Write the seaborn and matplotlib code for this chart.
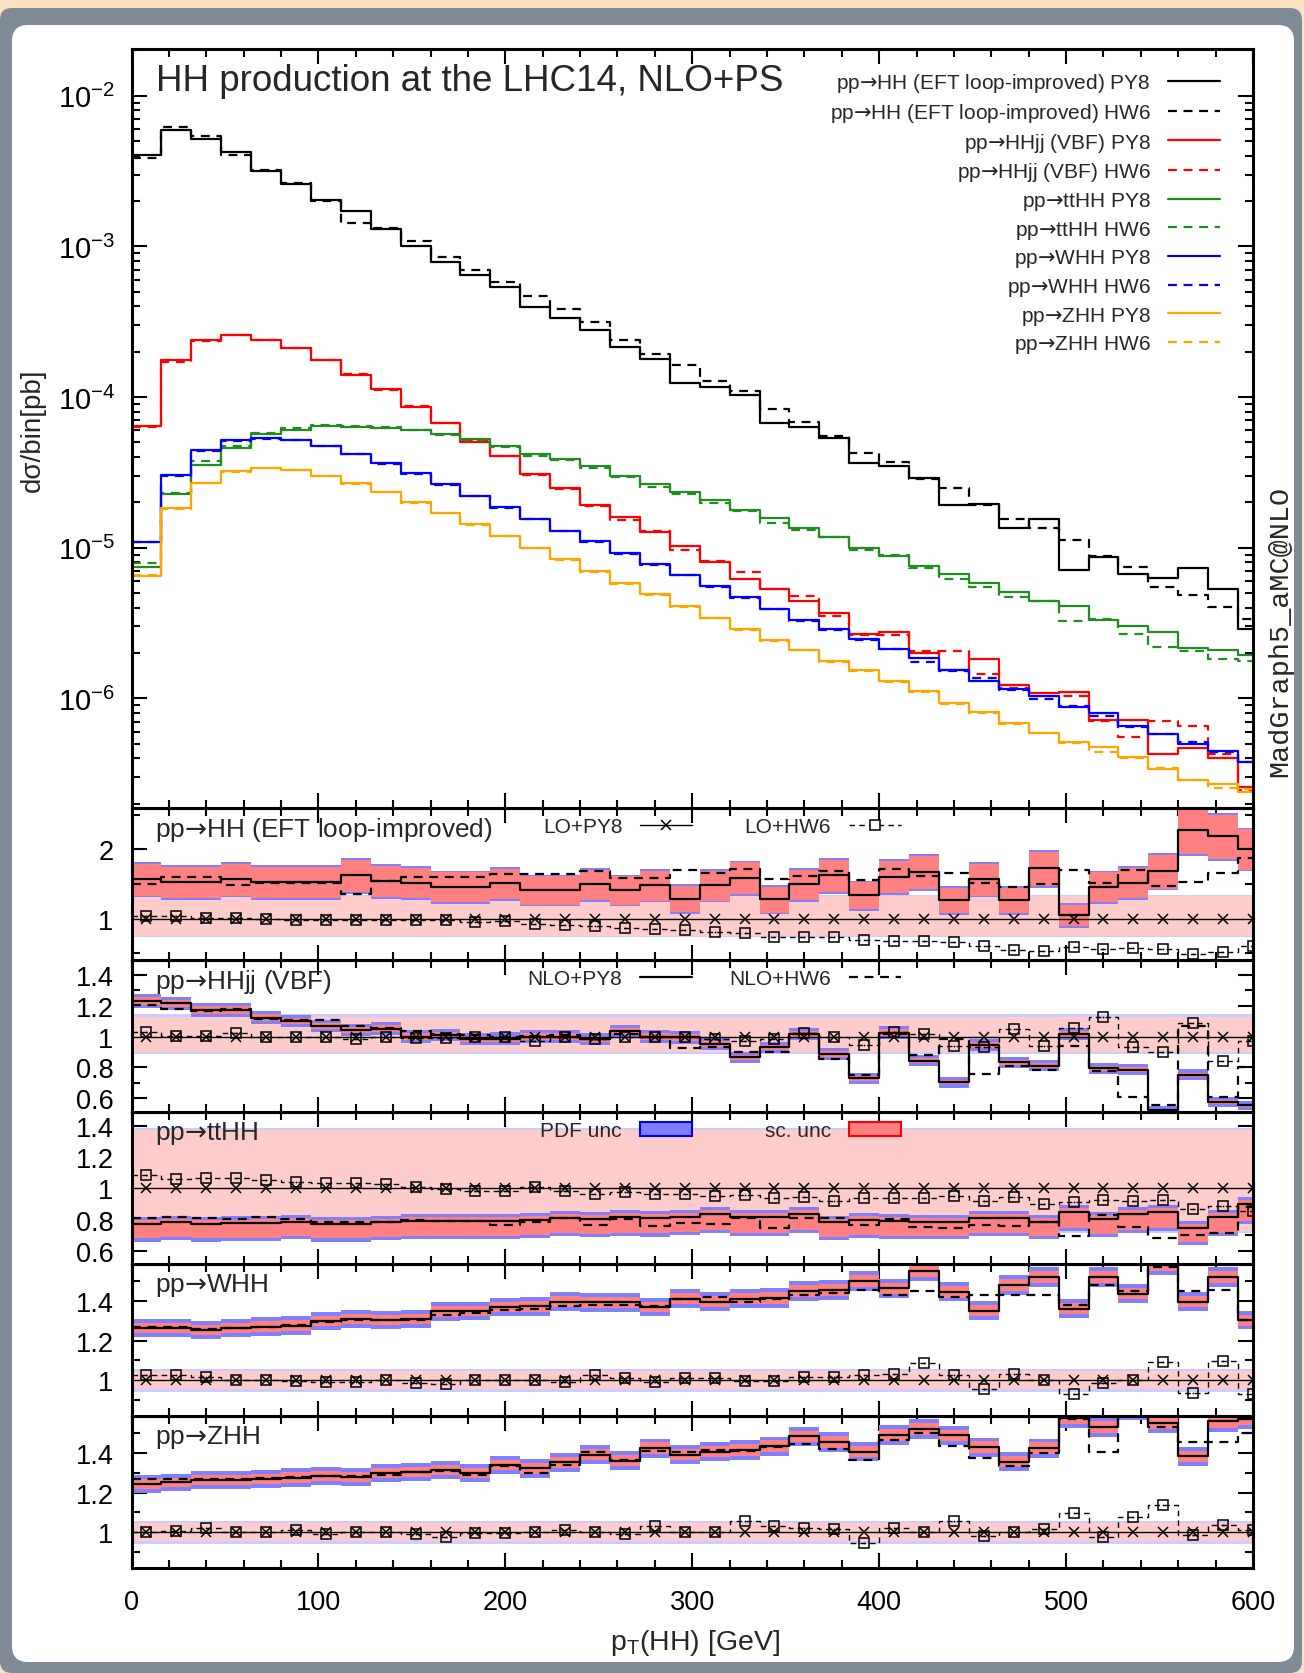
import numpy as np
import pandas as pd
import matplotlib
matplotlib.use("Agg")
import matplotlib.pyplot as plt
import seaborn as sns
from matplotlib.patches import FancyBboxPatch, Patch
from matplotlib.lines import Line2D
from matplotlib.ticker import MultipleLocator, FixedLocator, FormatStrFormatter, LogLocator

# ---------------- data ----------------
bin_width = 16
edges = np.arange(0, 609, bin_width)          # 38 bins, last one runs past 600
centers = edges[:-1] + bin_width / 2

# d sigma / bin [pb]
hh_py8 = [4.04e-3, 5.94e-3, 5.15e-3, 4.25e-3, 3.18e-3, 2.59e-3, 2.02e-3, 1.73e-3, 1.30e-3, 1.01e-3,
          7.93e-4, 6.46e-4, 5.35e-4, 3.99e-4, 3.33e-4, 2.78e-4, 2.14e-4, 1.79e-4, 1.24e-4, 1.16e-4,
          1.03e-4, 6.70e-5, 6.35e-5, 5.31e-5, 3.66e-5, 3.51e-5, 2.88e-5, 1.93e-5, 1.95e-5, 1.35e-5,
          1.54e-5, 7.08e-6, 8.69e-6, 6.64e-6, 6.28e-6, 7.31e-6, 5.28e-6, 2.87e-6]
hh_hw6 = [3.84e-3, 6.22e-3, 5.43e-3, 4.04e-3, 3.21e-3, 2.62e-3, 2.00e-3, 1.43e-3, 1.32e-3, 1.08e-3,
          8.49e-4, 7.00e-4, 5.79e-4, 4.67e-4, 3.82e-4, 3.13e-4, 2.39e-4, 1.93e-4, 1.64e-4, 1.28e-4,
          1.10e-4, 8.28e-5, 6.85e-5, 5.52e-5, 4.26e-5, 3.70e-5, 2.85e-5, 2.49e-5, 1.93e-5, 1.56e-5,
          1.35e-5, 1.13e-5, 8.87e-6, 7.40e-6, 5.48e-6, 4.84e-6, 4.01e-6, 3.37e-6]
hhjj_py8 = [6.43e-5, 1.76e-4, 2.38e-4, 2.59e-4, 2.40e-4, 2.13e-4, 1.75e-4, 1.41e-4, 1.13e-4, 8.55e-5,
            6.70e-5, 5.04e-5, 4.06e-5, 3.10e-5, 2.49e-5, 1.93e-5, 1.61e-5, 1.28e-5, 1.02e-5, 8.02e-6,
            6.21e-6, 5.35e-6, 4.43e-6, 3.66e-6, 2.69e-6, 2.75e-6, 1.99e-6, 1.54e-6, 1.83e-6, 1.23e-6,
            1.08e-6, 1.10e-6, 7.23e-7, 7.23e-7, 4.26e-7, 4.65e-7, 4.04e-7, 2.59e-7]
hhjj_hw6 = [6.31e-5, 1.72e-4, 2.35e-4, 2.58e-4, 2.39e-4, 2.13e-4, 1.77e-4, 1.43e-4, 1.11e-4, 8.73e-5,
            6.70e-5, 5.18e-5, 4.06e-5, 3.06e-5, 2.47e-5, 1.90e-5, 1.53e-5, 1.30e-5, 9.68e-6, 8.22e-6,
            6.92e-6, 5.28e-6, 4.80e-6, 3.51e-6, 2.62e-6, 2.62e-6, 2.05e-6, 2.05e-6, 1.46e-6, 1.17e-6,
            1.03e-6, 1.03e-6, 7.03e-7, 5.52e-7, 7.03e-7, 6.59e-7, 4.26e-7, 2.45e-7]
tthh_py8 = [7.40e-6, 2.26e-5, 3.54e-5, 4.57e-5, 5.70e-5, 6.08e-5, 6.43e-5, 6.35e-5, 6.25e-5, 6.08e-5,
            5.70e-5, 5.26e-5, 4.76e-5, 4.21e-5, 3.86e-5, 3.48e-5, 3.01e-5, 2.65e-5, 2.35e-5, 2.08e-5,
            1.77e-5, 1.57e-5, 1.35e-5, 1.18e-5, 9.95e-6, 8.83e-6, 7.52e-6, 6.64e-6, 5.86e-6, 5.06e-6,
            4.43e-6, 4.07e-6, 3.32e-6, 3.03e-6, 2.75e-6, 2.15e-6, 2.10e-6, 1.93e-6]
tthh_hw6 = [7.89e-6, 2.30e-5, 3.74e-5, 4.76e-5, 5.77e-5, 6.25e-5, 6.53e-5, 6.42e-5, 6.31e-5, 6.01e-5,
            5.61e-5, 5.18e-5, 4.65e-5, 4.06e-5, 3.82e-5, 3.36e-5, 2.96e-5, 2.51e-5, 2.28e-5, 1.98e-5,
            1.75e-5, 1.45e-5, 1.32e-5, 1.17e-5, 9.68e-6, 8.93e-6, 7.28e-6, 6.21e-6, 5.48e-6, 4.67e-6,
            4.43e-6, 3.28e-6, 3.36e-6, 2.69e-6, 2.18e-6, 2.05e-6, 1.83e-6, 1.76e-6]
whh_py8 = [1.09e-5, 3.05e-5, 4.45e-5, 5.18e-5, 5.31e-5, 5.18e-5, 4.72e-5, 4.21e-5, 3.64e-5, 3.11e-5,
           2.63e-5, 2.21e-5, 1.85e-5, 1.56e-5, 1.30e-5, 1.10e-5, 9.16e-6, 7.76e-6, 6.56e-6, 5.55e-6,
           4.67e-6, 3.93e-6, 3.33e-6, 2.87e-6, 2.48e-6, 2.13e-6, 1.86e-6, 1.54e-6, 1.30e-6, 1.16e-6,
           1.04e-6, 8.73e-7, 7.93e-7, 6.56e-7, 5.77e-7, 5.01e-7, 4.50e-7, 3.78e-7]
whh_hw6 = [1.09e-5, 3.00e-5, 4.40e-5, 5.10e-5, 5.25e-5, 5.15e-5, 4.70e-5, 4.18e-5, 3.62e-5, 3.10e-5,
           2.60e-5, 2.20e-5, 1.84e-5, 1.55e-5, 1.29e-5, 1.09e-5, 9.10e-6, 7.70e-6, 6.56e-6, 5.48e-6,
           4.62e-6, 3.91e-6, 3.28e-6, 2.84e-6, 2.44e-6, 2.11e-6, 1.73e-6, 1.52e-6, 1.37e-6, 1.13e-6,
           9.89e-7, 8.83e-7, 7.64e-7, 6.49e-7, 5.82e-7, 5.14e-7, 4.40e-7, 3.78e-7]
zhh_py8 = [6.46e-6, 1.83e-5, 2.70e-5, 3.23e-5, 3.40e-5, 3.30e-5, 3.01e-5, 2.67e-5, 2.35e-5, 2.00e-5,
           1.70e-5, 1.43e-5, 1.20e-5, 1.00e-5, 8.38e-6, 7.00e-6, 5.79e-6, 4.92e-6, 4.07e-6, 3.43e-6,
           2.87e-6, 2.42e-6, 2.10e-6, 1.76e-6, 1.54e-6, 1.30e-6, 1.11e-6, 9.38e-7, 8.15e-7, 6.86e-7,
           5.89e-7, 5.09e-7, 4.76e-7, 4.06e-7, 3.40e-7, 2.88e-7, 2.69e-7, 2.39e-7]
zhh_hw6 = [6.60e-6, 1.80e-5, 2.68e-5, 3.20e-5, 3.38e-5, 3.28e-5, 3.00e-5, 2.65e-5, 2.33e-5, 1.98e-5,
           1.69e-5, 1.42e-5, 1.19e-5, 9.90e-6, 8.30e-6, 6.90e-6, 5.75e-6, 4.85e-6, 4.05e-6, 3.40e-6,
           2.85e-6, 2.40e-6, 2.08e-6, 1.74e-6, 1.52e-6, 1.28e-6, 1.10e-6, 9.20e-7, 8.00e-7, 6.80e-7,
           5.85e-7, 5.05e-7, 4.40e-7, 4.00e-7, 3.45e-7, 2.85e-7, 2.52e-7, 2.50e-7]

ARROW = r'$\mathsf{→}$'   # arrow glyph taken from DejaVu Sans (set as mathtext.sf below)
procs = [f'pp{ARROW}HH (EFT loop-improved)', f'pp{ARROW}HHjj (VBF)', f'pp{ARROW}ttHH',
         f'pp{ARROW}WHH', f'pp{ARROW}ZHH']
proc_colors = ['black', '#ff0000', '#228b22', '#0000ff', '#ffa500']
top_curves = [(hh_py8, hh_hw6), (hhjj_py8, hhjj_hw6), (tthh_py8, tthh_hw6),
              (whh_py8, whh_hw6), (zhh_py8, zhh_hw6)]

# ratios to LO+PY8 (LO+PY8 itself is 1 by construction)
hh_r_nlo_py8 = [1.567, 1.529, 1.529, 1.567, 1.529, 1.529, 1.529, 1.625, 1.543, 1.519, 1.462, 1.462, 1.51,
                1.413, 1.413, 1.495, 1.413, 1.481, 1.288, 1.481, 1.591, 1.279, 1.495, 1.625, 1.337, 1.606,
                1.673, 1.269, 1.567, 1.264, 1.726, 1.048, 1.462, 1.519, 1.688, 2.279, 2.192, 2.01]
hh_r_nlo_hw6 = [1.495, 1.601, 1.601, 1.481, 1.519, 1.519, 1.519, 1.351, 1.543, 1.606, 1.606, 1.606, 1.639,
                1.639, 1.639, 1.688, 1.591, 1.591, 1.697, 1.663, 1.721, 1.567, 1.615, 1.688, 1.558, 1.712,
                1.615, 1.654, 1.51, 1.462, 1.495, 1.697, 1.519, 1.697, 1.471, 1.529, 1.654, 1.88]
hh_r_lo_hw6 = [1.04, 1.04, 1.015, 1.015, 1.0, 0.98, 0.98, 0.98, 0.98, 0.98, 0.98, 0.95, 0.966, 0.918,
               0.904, 0.885, 0.87, 0.846, 0.837, 0.808, 0.788, 0.726, 0.726, 0.726, 0.692, 0.678, 0.678,
               0.663, 0.606, 0.548, 0.524, 0.582, 0.558, 0.572, 0.558, 0.486, 0.519, 0.606]

hhjj_r_nlo_py8 = [1.23, 1.215, 1.172, 1.172, 1.123, 1.101, 1.069, 1.043, 1.052, 1.0, 1.011, 0.983, 0.987,
                  1.0, 1.0, 0.983, 1.037, 1.0, 0.994, 0.951, 0.865, 0.929, 1.015, 0.886, 0.729, 1.026,
                  0.843, 0.703, 0.944, 0.832, 0.811, 1.015, 0.794, 0.785, 0.52, 0.751, 0.574, 0.553]
hhjj_r_nlo_hw6 = [1.202, 1.181, 1.166, 1.181, 1.112, 1.105, 1.108, 1.069, 1.058, 1.037, 1.015, 1.009, 1.0,
                  1.004, 1.009, 0.983, 1.015, 1.0, 0.923, 0.935, 0.897, 0.901, 1.015, 0.854, 0.751, 1.015,
                  0.88, 0.983, 0.757, 0.806, 0.785, 0.94, 0.778, 0.606, 0.557, 1.069, 0.606, 0.8]
hhjj_r_lo_hw6 = [1.03, 1.004, 1.004, 1.026, 1.0, 1.0, 1.0, 0.987, 0.996, 0.99, 0.99, 1.0, 0.994, 0.972,
                 1.0, 0.983, 1.0, 1.0, 0.994, 0.983, 0.972, 0.987, 1.026, 1.0, 0.946, 1.032, 1.015, 0.94,
                 0.935, 1.052, 0.94, 1.058, 1.129, 0.929, 0.897, 1.09, 0.843, 0.972]

tthh_r_nlo_py8 = [0.773, 0.783, 0.773, 0.777, 0.779, 0.788, 0.773, 0.773, 0.783, 0.792, 0.794, 0.794,
                  0.794, 0.8, 0.811, 0.805, 0.815, 0.809, 0.82, 0.837, 0.815, 0.815, 0.837, 0.783, 0.798,
                  0.794, 0.788, 0.788, 0.811, 0.811, 0.788, 0.851, 0.805, 0.837, 0.851, 0.747, 0.815, 0.9]
tthh_r_nlo_hw6 = [0.809, 0.82, 0.813, 0.805, 0.82, 0.805, 0.788, 0.783, 0.788, 0.798, 0.794, 0.794,
                  0.769, 0.783, 0.809, 0.769, 0.805, 0.762, 0.779, 0.773, 0.809, 0.745, 0.809, 0.809,
                  0.766, 0.805, 0.752, 0.745, 0.766, 0.758, 0.783, 0.694, 0.83, 0.752, 0.682, 0.699,
                  0.715, 0.879]
tthh_r_lo_hw6 = [1.085, 1.059, 1.064, 1.064, 1.053, 1.038, 1.032, 1.032, 1.028, 1.006, 0.996, 0.985,
                 0.985, 1.006, 0.985, 0.964, 0.975, 0.964, 0.964, 0.953, 0.958, 0.936, 0.947, 0.921,
                 0.936, 0.936, 0.936, 0.953, 0.921, 0.943, 0.9, 0.911, 0.928, 0.921, 0.926, 0.868,
                 0.885, 0.858]

whh_r_nlo_py8 = [1.263, 1.263, 1.254, 1.263, 1.271, 1.276, 1.297, 1.31, 1.305, 1.31, 1.347, 1.349, 1.369,
                 1.373, 1.395, 1.392, 1.392, 1.369, 1.412, 1.395, 1.412, 1.415, 1.449, 1.454, 1.5, 1.463,
                 1.551, 1.446, 1.351, 1.48, 1.519, 1.361, 1.522, 1.437, 1.581, 1.395, 1.519, 1.302]
whh_r_nlo_hw6 = [1.268, 1.268, 1.259, 1.263, 1.271, 1.28, 1.293, 1.302, 1.305, 1.302, 1.327, 1.341, 1.353,
                 1.361, 1.375, 1.378, 1.381, 1.375, 1.412, 1.42, 1.392, 1.408, 1.429, 1.442, 1.454, 1.429,
                 1.449, 1.42, 1.429, 1.429, 1.432, 1.378, 1.48, 1.449, 1.573, 1.449, 1.454, 1.302]
whh_r_lo_hw6 = [1.027, 1.025, 1.017, 1.0, 1.0, 0.997, 0.992, 0.992, 1.0, 0.988, 0.98, 1.0, 1.0, 1.0,
                0.992, 1.025, 1.014, 0.992, 1.014, 1.014, 0.997, 0.997, 1.019, 1.019, 1.025, 1.031, 1.086,
                1.025, 0.954, 1.031, 1.0, 0.929, 0.988, 1.0, 1.09, 0.937, 1.098, 0.929]

zhh_r_nlo_py8 = [1.242, 1.251, 1.264, 1.264, 1.268, 1.276, 1.285, 1.28, 1.297, 1.305, 1.315, 1.297, 1.339,
                 1.322, 1.353, 1.39, 1.361, 1.424, 1.39, 1.407, 1.415, 1.434, 1.483, 1.454, 1.407, 1.492,
                 1.519, 1.488, 1.429, 1.356, 1.424, 1.576, 1.531, 1.62, 1.55, 1.383, 1.559, 1.573]
zhh_r_nlo_hw6 = [1.268, 1.271, 1.268, 1.271, 1.276, 1.281, 1.285, 1.285, 1.29, 1.302, 1.31, 1.29, 1.336,
                 1.298, 1.339, 1.407, 1.366, 1.412, 1.403, 1.417, 1.412, 1.429, 1.446, 1.42, 1.366, 1.463,
                 1.5, 1.434, 1.373, 1.336, 1.4, 1.573, 1.403, 1.59, 1.53, 1.454, 1.454, 1.502]
zhh_r_lo_hw6 = [1.0, 1.008, 1.022, 1.0, 1.0, 1.014, 0.993, 1.0, 1.0, 0.993, 0.976, 0.997, 0.997, 1.0,
                1.014, 1.0, 0.992, 1.031, 1.0, 1.0, 1.056, 1.034, 1.022, 1.017, 0.946, 1.022, 1.0, 1.056,
                0.98, 1.0, 1.019, 1.098, 0.976, 1.076, 1.136, 0.988, 1.039, 1.01]

# relative scale uncertainties (up, down) of NLO and LO, and extra PDF width, per process
nlo_scale_unc = [(0.14, 0.15), (0.02, 0.02), (0.03, 0.12), (0.02, 0.02), (0.02, 0.02)]
lo_scale_unc = [(0.33, 0.25), (0.13, 0.10), (0.37, 0.27), (0.045, 0.045), (0.045, 0.045)]
nlo_pdf_extra = [0.025, 0.02, 0.02, 0.02, 0.02]
lo_pdf_extra = [0.015, 0.015, 0.015, 0.012, 0.012]

ratio_sets = [(hh_r_nlo_py8, hh_r_nlo_hw6, hh_r_lo_hw6),
              (hhjj_r_nlo_py8, hhjj_r_nlo_hw6, hhjj_r_lo_hw6),
              (tthh_r_nlo_py8, tthh_r_nlo_hw6, tthh_r_lo_hw6),
              (whh_r_nlo_py8, whh_r_nlo_hw6, whh_r_lo_hw6),
              (zhh_r_nlo_py8, zhh_r_nlo_hw6, zhh_r_lo_hw6)]
ratio_ylims = [(0.4, 2.6), (0.51, 1.497), (0.517, 1.487), (0.82, 1.586), (0.82, 1.586)]

# ---------------- style ----------------
sns.set_theme(style="ticks")
plt.rcParams['font.family'] = ['Liberation Sans', 'DejaVu Sans']
plt.rcParams['mathtext.fontset'] = 'custom'
plt.rcParams['mathtext.rm'] = 'Liberation Sans'
plt.rcParams['mathtext.it'] = 'Liberation Sans:italic'
plt.rcParams['mathtext.sf'] = 'DejaVu Sans'
plt.rcParams['axes.unicode_minus'] = False

DASH = (4, 3)


def st(v):
    v = np.asarray(v, dtype=float)
    return np.append(v, v[-1])


def style_axis(ax):
    for s in ax.spines.values():
        s.set_linewidth(2.2)
        s.set_color('black')
    ax.set_facecolor('none')
    ax.tick_params(which='both', direction='in', top=True, right=True, width=1.5, color='black',
                   labelcolor='black')
    ax.tick_params(which='major', length=11, labelsize=19.5, pad=13)
    ax.tick_params(which='minor', length=5.5)
    ax.set_xlim(0, 600)
    ax.xaxis.set_major_locator(MultipleLocator(100))
    ax.xaxis.set_minor_locator(MultipleLocator(20))
    ax.set_xlabel('')
    ax.set_ylabel('')
    ax.grid(False)


fig = plt.figure(figsize=(13.04, 16.74), dpi=100)
fig.patch.set_facecolor('#fbe3c2')
fig.add_artist(FancyBboxPatch((0.0, 0.0), 13.02, 16.65, boxstyle='round,pad=0,rounding_size=0.12',
                              transform=fig.dpi_scale_trans, fc='#7f8b97', ec='none', zorder=-10))
fig.add_artist(FancyBboxPatch((0.12, 0.11), 12.82, 16.37, boxstyle='round,pad=0,rounding_size=0.16',
                              transform=fig.dpi_scale_trans, fc='white', ec='none', zorder=-9))

H = 1674.0
x0, x1 = 131.5, 1253.0


def rect(top, bot):
    return [x0 / 1304, 1 - bot / H, (x1 - x0) / 1304, (bot - top) / H]


# ---------------- main panel ----------------
ax = fig.add_axes(rect(49.5, 809))
rows = []
for name, (py8, hw6) in zip(procs, top_curves):
    for gen, vals in (('PY8', py8), ('HW6', hw6)):
        for x, y in zip(edges, st(vals)):
            rows.append((name, gen, x, y))
df_top = pd.DataFrame(rows, columns=['process', 'shower', 'pt', 'xsec'])
sns.lineplot(data=df_top, x='pt', y='xsec', hue='process', style='shower',
             palette=dict(zip(procs, proc_colors)), dashes={'PY8': '', 'HW6': DASH},
             hue_order=procs, style_order=['PY8', 'HW6'], drawstyle='steps-post',
             estimator=None, sort=False, lw=1.6, legend=False, ax=ax)
ax.set_yscale('log')
ax.set_ylim(1.87e-7, 0.0206)
style_axis(ax)
ax.yaxis.set_major_locator(LogLocator(base=10))
ax.yaxis.set_minor_locator(LogLocator(base=10, subs=np.arange(2, 10)))
ax.tick_params(axis='y', which='major', labelsize=21, pad=12)
ax.tick_params(axis='x', labelbottom=False)
ax.text(0.0216, 0.958, 'HH production at the LHC14, NLO+PS', transform=ax.transAxes,
        fontsize=26.5, ha='left', va='center')

handles, labels = [], []
for name, c in zip(procs, proc_colors):
    for gen, ls in (('PY8', '-'), ('HW6', (0, DASH))):
        handles.append(Line2D([], [], color=c, lw=1.6, ls=ls))
        labels.append(f'{name} {gen}')
ax.legend(handles, labels, loc='upper right', bbox_to_anchor=(0.9706, 0.97), frameon=False,
          markerfirst=False, fontsize=15, handlelength=2.5, handletextpad=0.82, labelspacing=0.32,
          borderpad=0, borderaxespad=0)

# ---------------- ratio panels ----------------
bounds = [809, 961, 1113, 1265, 1417, 1569]
lo_py8_ratio = np.ones(len(centers))
for i in range(5):
    axr = fig.add_axes(rect(bounds[i], bounds[i + 1]))
    nlo_py8, nlo_hw6, lo_hw6 = (np.asarray(a) for a in ratio_sets[i])
    up, dn = nlo_scale_unc[i]
    lup, ldn = lo_scale_unc[i]
    p_nlo, p_lo = nlo_pdf_extra[i], lo_pdf_extra[i]

    axr.fill_between(edges, st(lo_py8_ratio * (1 - ldn)) - p_lo, st(lo_py8_ratio * (1 + lup)) + p_lo,
                     step='post', color='#ccccff', lw=0, zorder=1)
    axr.fill_between(edges, st(lo_py8_ratio * (1 - ldn)), st(lo_py8_ratio * (1 + lup)),
                     step='post', color='#ffcccc', lw=0, zorder=1)
    axr.fill_between(edges, st(nlo_py8 * (1 - dn)) - p_nlo, st(nlo_py8 * (1 + up)) + p_nlo,
                     step='post', color='#8080ff', lw=0, zorder=1)
    axr.fill_between(edges, st(nlo_py8 * (1 - dn)), st(nlo_py8 * (1 + up)),
                     step='post', color='#ff8080', lw=0, zorder=1)

    rrows = []
    for gen, vals in (('NLO+PY8', nlo_py8), ('NLO+HW6', nlo_hw6),
                      ('LO+PY8', lo_py8_ratio), ('LO+HW6', lo_hw6)):
        for x, y in zip(edges, st(vals)):
            rrows.append((gen, x, y))
    df_r = pd.DataFrame(rrows, columns=['gen', 'pt', 'ratio'])
    sns.lineplot(data=df_r[df_r.gen.str.startswith('NLO')], x='pt', y='ratio', style='gen',
                 dashes={'NLO+PY8': '', 'NLO+HW6': DASH}, color='black', lw=1.6,
                 drawstyle='steps-post', estimator=None, sort=False, legend=False, ax=axr)
    sns.lineplot(data=df_r[df_r.gen.str.startswith('LO')], x='pt', y='ratio', style='gen',
                 dashes={'LO+PY8': '', 'LO+HW6': DASH}, color='black', lw=1.0,
                 drawstyle='steps-post', estimator=None, sort=False, legend=False, ax=axr)
    axr.plot(centers, lo_py8_ratio, ls='none', marker='x', ms=7, mew=1.1, color='black', zorder=4)
    axr.plot(centers, lo_hw6, ls='none', marker='s', ms=6.5, mew=1.1, mfc='none', mec='black', zorder=4)
    axr.plot(centers, lo_hw6, ls='none', marker='o', ms=1.3, mew=0, color='black', zorder=4)

    axr.set_ylim(*ratio_ylims[i])
    style_axis(axr)
    if i == 0:
        axr.yaxis.set_major_locator(FixedLocator([1, 2]))
        axr.yaxis.set_minor_locator(MultipleLocator(0.5))
    elif i in (1, 2):
        axr.yaxis.set_major_locator(MultipleLocator(0.2))
        axr.yaxis.set_minor_locator(MultipleLocator(0.1))
    else:
        axr.yaxis.set_major_locator(FixedLocator([1, 1.2, 1.4]))
        axr.yaxis.set_minor_locator(MultipleLocator(0.1))
    axr.yaxis.set_major_formatter(FormatStrFormatter('%g'))
    if i < 4:
        axr.tick_params(axis='x', labelbottom=False)
    else:
        axr.tick_params(axis='x', pad=15)

    axr.text(0.021, 0.862, procs[i], transform=axr.transAxes, fontsize=18.9, ha='left', va='center',
             zorder=6)

    leg_kw = dict(loc='upper right', bbox_to_anchor=(0.686, 0.94), frameon=False, markerfirst=False,
                  ncol=2, fontsize=15, handlelength=2.5, handletextpad=0.86, borderpad=0,
                  borderaxespad=0)
    if i == 0:
        axr.legend([Line2D([], [], color='black', lw=1.0, marker='x', ms=7, mew=1.1),
                    Line2D([], [], color='black', lw=1.0, ls=(0, DASH), marker='s', ms=6.5,
                           mfc='white', mec='black', mew=1.1)],
                   ['LO+PY8', 'LO+HW6'], columnspacing=2.5, **leg_kw)
    elif i == 1:
        axr.legend([Line2D([], [], color='black', lw=1.6),
                    Line2D([], [], color='black', lw=1.6, ls=(0, DASH))],
                   ['NLO+PY8', 'NLO+HW6'], columnspacing=1.78, **leg_kw)
    elif i == 2:
        axr.legend([Patch(fc='#8080ff', ec='#0000ff', lw=1.5),
                    Patch(fc='#ff8080', ec='#ff0000', lw=1.5)],
                   ['PDF unc', 'sc. unc'], columnspacing=3.5, **leg_kw)

fig.text(0.0253, 1 - 430 / H, 'dσ/bin[pb]', rotation=90, ha='center', va='center', fontsize=20)
fig.text(0.533, 1 - 1643 / H, r'p$_{\rm T}$(HH) [GeV]', ha='center', va='center', fontsize=20.5)
fig.text(1280 / 1304, 1 - 631 / H, 'MadGraph5_aMC@NLO', rotation=90, ha='center', va='center',
         fontsize=20.5, family=['Liberation Mono', 'DejaVu Sans Mono'])

fig.savefig('out.png', dpi=100)
